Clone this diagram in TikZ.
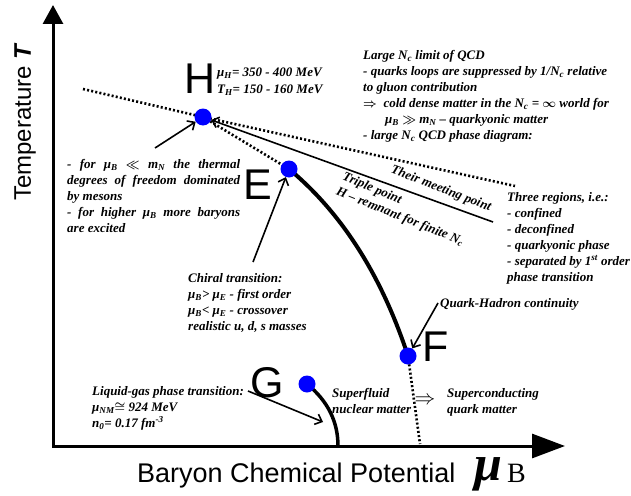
\documentclass[tikz,border=0pt]{standalone}
\usepackage{fontspec}
\setmainfont{Liberation Serif}
\setsansfont{Liberation Sans}
\usetikzlibrary{arrows.meta}
\pgfdeclarelayer{background}
\pgfsetlayers{background,main}
\tikzset{
  bluedot/.style={circle, fill=blue, inner sep=0pt, minimum size=17pt},
  letter/.style={font=\sffamily\fontsize{43}{43}\selectfont, inner sep=0pt},
  note/.style={font=\boldmath\bfseries\itshape\fontsize{13}{16}\selectfont, align=left, inner sep=0pt, anchor=north west},
  rnote/.style={font=\boldmath\bfseries\itshape\fontsize{13}{15}\selectfont, inner sep=0pt},
  ptr/.style={line width=1.6pt, -{Straight Barb[length=6pt,width=11pt]}},
  dotline/.style={line width=2.6pt, dash pattern=on 2pt off 2.2pt},
  axis/.style={line width=3pt},
}
\begin{document}
\begin{tikzpicture}[x=1pt,y=-1pt]
\useasboundingbox (0,0) rectangle (631,495);

% points
\node[bluedot] (H) at (203,117) {};
\node[bluedot] (E) at (289,169) {};
\node[bluedot] (F) at (408,356) {};
\node[bluedot] (G) at (307,384) {};

\node[letter] (Hl) at (200,79) {H};
\node[letter] (El) at (258,185) {E};
\node[letter] (Fl) at (436,347) {F};
\node[letter] (Gl) at (267,383) {G};

% axes
\coordinate (O) at (53,446);
\coordinate (ytip) at (53,5);
\coordinate (xtip) at (565,446);

\coordinate (d1s) at (83,89);
\coordinate (d1e) at (515,186);
\coordinate (mp) at (493,222);
\coordinate (fend) at (420,444);
\coordinate (gend) at (338,446);
\coordinate (a1) at (155,148);
\coordinate (a2) at (253,262);
\coordinate (a3) at (438,303);
\coordinate (a4) at (248,391);
\coordinate (a4e) at (323,422);

\begin{pgfonlayer}{background}
\draw[axis, {Triangle[length=19pt,width=20pt]}-{Triangle[length=33pt,width=24pt]}] (ytip) -- (O) -- (xtip);
\draw[dotline] (d1s) -- (H.center) -- (d1e);
\draw[dotline] (H.center) -- (E.center);
\draw[dotline] (F.center) -- (fend);
\draw[line width=4pt] (E.center) .. controls (343,214) and (382,277) .. (F.center);
\draw[line width=3.5pt] (G.center) .. controls (328,401) and (338,422) .. (gend);
\end{pgfonlayer}

\draw[ptr] (mp) -- (H);
\draw[ptr] (a1) -- (H);
\draw[ptr] (a2) -- (E);
\draw[ptr] (a3) -- (F);
\draw[ptr] (a4) -- (a4e);

% axis labels
\node[font=\sffamily\fontsize{24}{24}\selectfont, rotate=90] (ylab) at (25,122) {Temperature \textbf{\textit{T}}};
\node[font=\sffamily\fontsize{27}{27}\selectfont, anchor=base west, inner sep=0pt] (xlab) at (137,482) {Baryon Chemical Potential};
\node[font=\bfseries\itshape\fontsize{50}{50}\selectfont, anchor=base west, inner sep=0pt] (mu) at (474,480) {μ};
\node[font=\fontsize{28}{28}\selectfont, anchor=base west, inner sep=0pt] (muB) at (507,482) {B};

% notes
\node[note] (hinfo) at (217,68) {μ\textsubscript{H}= 350 - 400 MeV\\[1pt]T\textsubscript{H}= 150 - 160 MeV};

\node[note] (largeN) at (363,50) {Large N\textsubscript{c} limit of QCD\\
- quarks loops are suppressed by 1/N\textsubscript{c} relative\\
to gluon contribution\\
$\Rightarrow$\ \ cold dense matter in the N\textsubscript{c} = $\infty$ world for\\
\hspace*{22pt}μ\textsubscript{B} $\gg$ m\textsubscript{N} – quarkyonic matter\\
- large N\textsubscript{c} QCD phase diagram:};

\node[note] (lowmu) at (67,159) {\makebox[173pt][s]{- for μ\textsubscript{B} $\ll$ m\textsubscript{N} the thermal}\\
\makebox[173pt][s]{degrees of freedom dominated}\\
by mesons\\
\makebox[173pt][s]{- for higher μ\textsubscript{B} more baryons}\\
are excited};

\node[note] (chiral) at (188,273) {Chiral transition:\\
μ\textsubscript{B}> μ\textsubscript{E} - first order\\
μ\textsubscript{B}< μ\textsubscript{E} - crossover\\
realistic u, d, s masses};

\node[note] (three) at (507,192) {Three regions, i.e.:\\
- confined\\
- deconfined\\
- quarkyonic phase\\
- separated by 1\textsuperscript{st} order\\
phase transition};

\node[note] (qh) at (440,298) {Quark-Hadron continuity};

\node[note] (lg) at (92,386) {Liquid-gas phase transition:\\
μ\textsubscript{NM}$\cong$ 924 MeV\\
n\textsubscript{0}= 0.17 fm\textsuperscript{-3}};

\node[note] (sf) at (332,388) {Superfluid\\nuclear matter};
\node[note] (sc) at (447,388) {Superconducting\\quark matter};
\node[font=\fontsize{22}{22}\selectfont, inner sep=0pt] (dbl) at (425,401) {$\Rightarrow$};

\node[rnote, rotate=-21] (meet) at (441,189) {Their meeting point};
\node[rnote, rotate=-23] (triple) at (372,189) {Triple point};
\node[rnote, rotate=-22] (remn) at (400,217) {H – remnant for finite N\textsubscript{c}};
\end{tikzpicture}
\end{document}
